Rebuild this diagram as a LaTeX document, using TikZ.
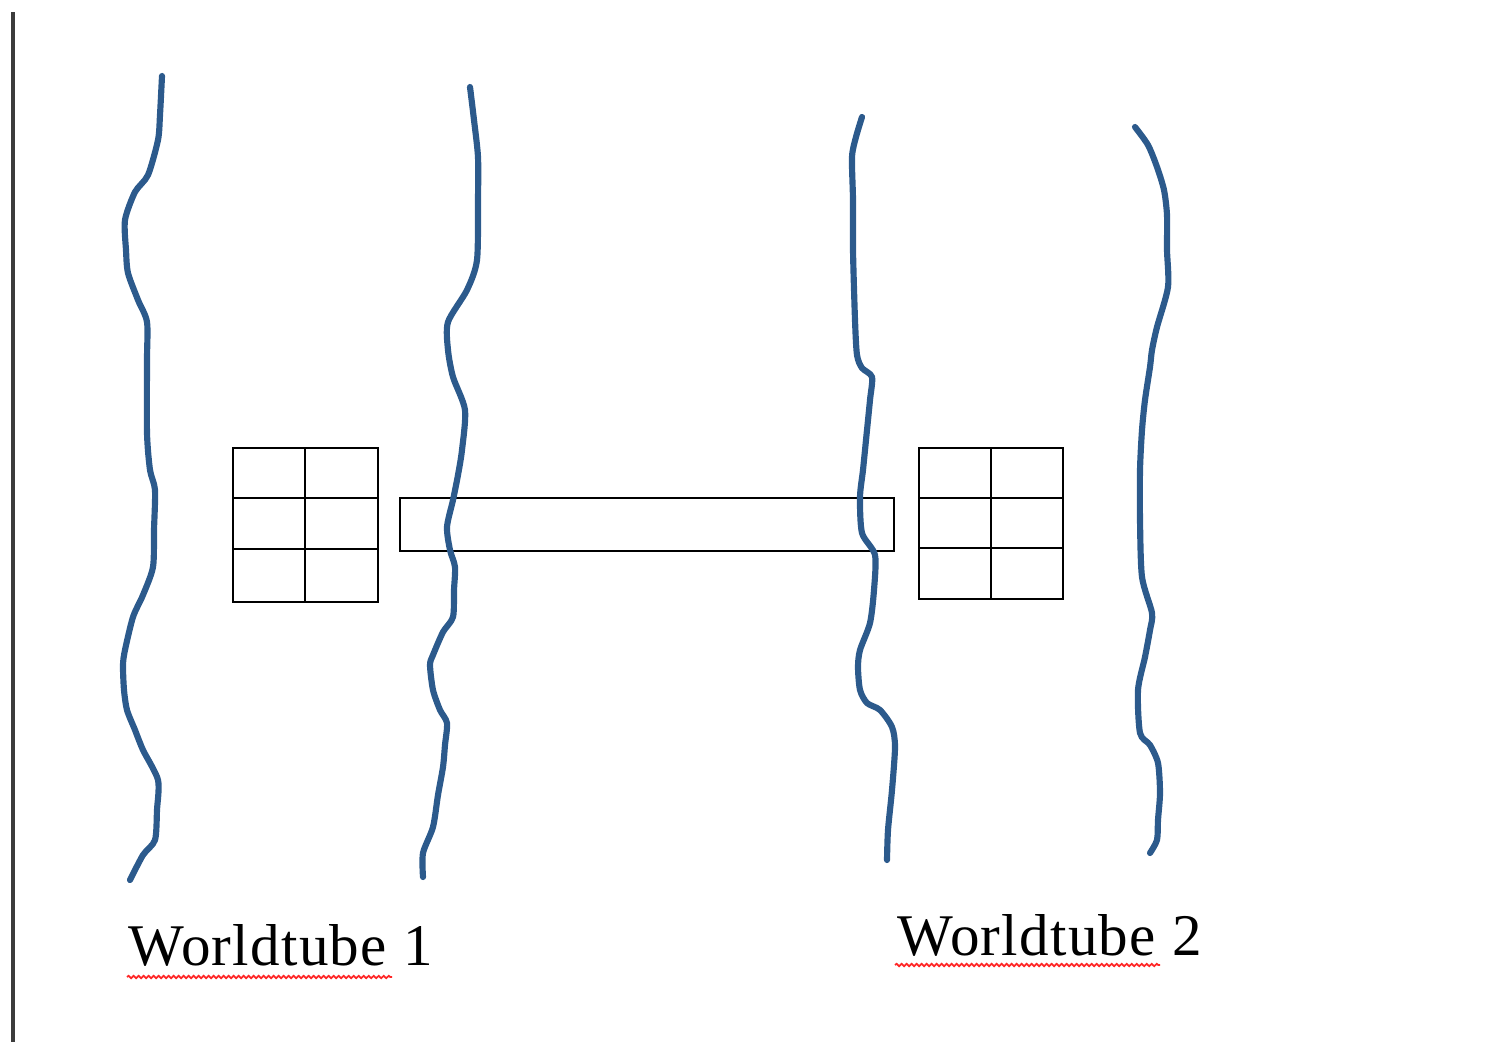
\documentclass[tikz,border=0pt]{standalone}
\usepackage{fontspec}
\setmainfont{Liberation Serif}
\newfontfamily\labelfont[LetterSpace=2.2]{Liberation Serif}
\usetikzlibrary{decorations.pathmorphing}
\definecolor{tubeblue}{RGB}{44,90,140}
\definecolor{marginline}{RGB}{60,60,60}
\tikzset{
  tube/.style={draw=tubeblue, line width=1.75pt, line cap=round, line join=round},
  cellbox/.style={draw=black, line width=0.75pt},
  label/.style={inner sep=0pt, anchor=base west, font=\labelfont\fontsize{16.8}{20}\selectfont},
  squiggle/.style={draw=red!85, line width=0.5pt,
    decorate, decoration={snake, segment length=0.05cm, amplitude=0.012cm}}
}
\begin{document}
\begin{tikzpicture}[x=0.01cm, y=-0.01cm]
  \useasboundingbox (0,0) rectangle (1512,1042);
  % page margin line
  \draw[marginline, line width=0.9pt] (13,12) -- (13,1042);

  % grids and the bar between them
  \draw[cellbox] (233,448) rectangle (378,602);
  \draw[cellbox] (305,448) -- (305,602);
  \draw[cellbox] (233,498) -- (378,498) (233,549) -- (378,549);
  \draw[cellbox] (919,448) rectangle (1063,599);
  \draw[cellbox] (991,448) -- (991,599);
  \draw[cellbox] (919,498) -- (1063,498) (919,548) -- (1063,548);
  \draw[cellbox] (400,498) rectangle (894,551);

  % world lines of the tube boundaries
  \draw[tube] plot[smooth, tension=0.45] coordinates {
    (162,76) (160,115) (158,140) (148,175) (135,192) (125,220) (126,250)
    (128,273) (138,300) (147,322) (147,360) (147,433) (150,470) (155,490)
    (154,530) (153,567) (143,595) (133,617) (125,650) (123,665) (124,690)
    (127,710) (135,730) (143,750) (158,780) (157,810) (155,840) (143,855) (130,880)};
  \draw[tube] plot[smooth, tension=0.45] coordinates {
    (470,87) (474,120) (478,157) (478,200) (477,260) (467,290) (448,322)
    (448,350) (453,377) (465,410) (462,450) (458,475) (453,500) (447,527)
    (450,550) (455,567) (454,590) (453,617) (443,632) (433,655) (430,665)
    (433,690) (440,710) (447,723) (445,745) (443,767) (438,795) (433,827)
    (423,853) (423,877)};
  \draw[tube] plot[smooth, tension=0.45] coordinates {
    (862,117) (856,137) (852,157) (853,200) (853,250) (855,320) (857,355)
    (862,368) (872,377) (870,400) (866,440) (863,470) (860,497) (862,533)
    (875,555) (874,590) (870,623) (860,650) (858,667) (860,690) (867,703)
    (880,710) (892,727) (895,747) (892,790) (888,830) (887,860)};
  \draw[tube] plot[smooth, tension=0.45] coordinates {
    (1135,127) (1148,145) (1157,167) (1164,190) (1167,215) (1167,250)
    (1168,287) (1157,327) (1152,350) (1150,367) (1145,400) (1142,430)
    (1140,470) (1140,520) (1142,577) (1152,613) (1150,630) (1145,657)
    (1138,690) (1140,733) (1150,745) (1158,763) (1160,793) (1158,820)
    (1157,840) (1150,853)};

  % labels with their spell-check underlines
  \node[label] (wt1) at (128,965) {Worldtube 1};
  \node[label] (wt2) at (897,955) {Worldtube 2};
  \path[squiggle] (127,977) -- (392,977);
  \path[squiggle] (895,965) -- (1160,965);
\end{tikzpicture}
\end{document}
